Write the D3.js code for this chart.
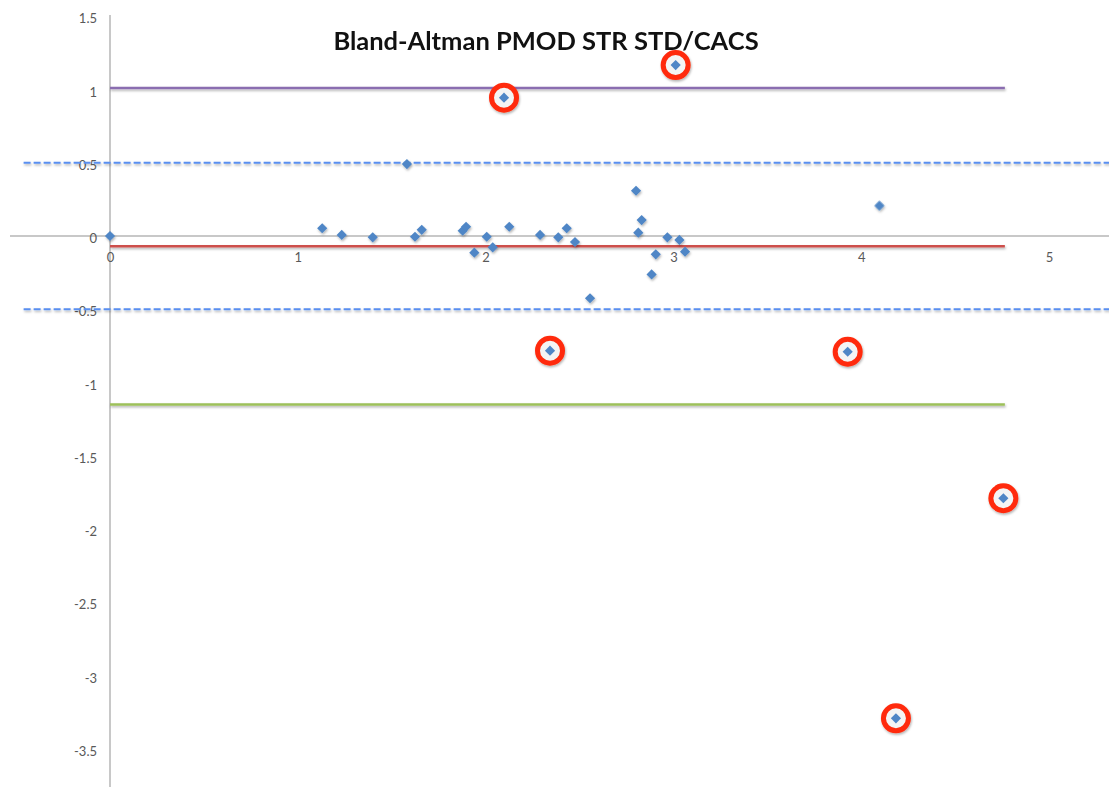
<!DOCTYPE html>
<html>
<head>
<meta charset="utf-8">
<script src="https://cdn.jsdelivr.net/npm/d3@7"></script>
<style>
  html, body { margin: 0; padding: 0; background: #fff; }
  svg { display: block; }
</style>
</head>
<body>
<svg id="chart" width="1109" height="787"></svg>
<script>
// ---- data ----
const title = "Bland-Altman PMOD STR STD/CACS";
const meanX = [0, 1.13, 1.234, 1.399, 1.581, 1.624, 1.66, 1.878, 1.896, 1.94, 2.006, 2.038, 2.126, 2.29, 2.387, 2.432, 2.476, 2.556, 2.801, 2.813, 2.831, 2.884, 2.906, 2.968, 3.032, 3.062, 4.097];
const diffY = [0, 0.053, 0.007, -0.009, 0.491, -0.005, 0.042, 0.036, 0.063, -0.114, -0.005, -0.077, 0.063, 0.007, -0.009, 0.053, -0.041, -0.425, 0.309, 0.023, 0.109, -0.262, -0.125, -0.009, -0.027, -0.107, 0.207];
const outlierX = [2.098, 3.012, 2.343, 3.928, 4.757, 4.185];
const outlierY = [0.944, 1.167, -0.783, -0.790, -1.790, -3.292];
const upperLoA = 1.01;
const meanDiff = -0.07;
const lowerLoA = -1.15;
const lineEndX = 4.765;
const tolerance = [0.5, -0.5];
const tolRange = [-0.46, 5.4];
const xTicks = [0, 1, 2, 3, 4, 5];
const yTicks = [1.5, 1, 0.5, 0, -0.5, -1, -1.5, -2, -2.5, -3, -3.5];

// ---- layout ----
const W = 1109, H = 787;
const svg = d3.select("#chart");
const x = d3.scaleLinear().domain([0, 5]).range([110, 1049]);
const y = d3.scaleLinear().domain([-3.5, 1.5]).range([236 + 3.5 * 146.5, 236 - 1.5 * 146.5]);

const defs = svg.append("defs");
const f = defs.append("filter").attr("id", "sh").attr("filterUnits", "userSpaceOnUse")
  .attr("x", 0).attr("y", 0).attr("width", W).attr("height", H);
f.append("feDropShadow").attr("dx", 0.8).attr("dy", 1.6).attr("stdDeviation", 1.2).attr("flood-color", "#000").attr("flood-opacity", 0.3);

// axis lines
svg.append("line").attr("x1", 10).attr("x2", W).attr("y1", y(0)).attr("y2", y(0))
  .attr("stroke", "#c8c8c8").attr("stroke-width", 2);
svg.append("line").attr("x1", x(0)).attr("x2", x(0)).attr("y1", 15).attr("y2", H)
  .attr("stroke", "#c8c8c8").attr("stroke-width", 2);

const font = "Lato, 'Open Sans', sans-serif";
const fmt = d => String(d);

// y axis labels
const yAx = svg.append("g").attr("transform", `translate(${x(0)},0)`)
  .call(d3.axisLeft(y).tickValues(yTicks).tickSize(0).tickPadding(13).tickFormat(fmt));
yAx.select(".domain").remove();
yAx.selectAll("text").attr("font-family", font).attr("font-size", 13).attr("fill", "#595959").attr("dy", "0.5em");

// x axis labels
const xAx = svg.append("g").attr("transform", `translate(0,${y(0)})`)
  .call(d3.axisBottom(x).tickValues(xTicks).tickSize(0).tickPadding(17).tickFormat(fmt));
xAx.select(".domain").remove();
xAx.selectAll("text").attr("font-family", font).attr("font-size", 13).attr("fill", "#595959");

// tolerance dashed lines
svg.append("g").attr("filter", "url(#sh)")
  .selectAll("line").data(tolerance).join("line")
  .attr("x1", x(tolRange[0])).attr("x2", x(tolRange[1]))
  .attr("y1", d => y(d)).attr("y2", d => y(d))
  .attr("stroke", "#5a8ff0").attr("stroke-width", 2.2).attr("stroke-dasharray", "7,3");

// limits of agreement and mean
const refLines = [
  { v: upperLoA, c: "#8a6db0" },
  { v: meanDiff, c: "#cd4f4b" },
  { v: lowerLoA, c: "#9dc05a" }
];
svg.append("g").attr("filter", "url(#sh)")
  .selectAll("line").data(refLines).join("line")
  .attr("x1", x(0)).attr("x2", x(lineEndX))
  .attr("y1", d => y(d.v)).attr("y2", d => y(d.v))
  .attr("stroke", d => d.c).attr("stroke-width", 2.6);

// points
const diamond = d3.symbol().type(d3.symbolSquare).size(52);
const pts = meanX.map((v, i) => [v, diffY[i]]);
svg.append("g").attr("filter", "url(#sh)")
  .selectAll("path").data(pts).join("path")
  .attr("d", diamond)
  .attr("transform", d => `translate(${x(d[0])},${y(d[1])}) rotate(45)`)
  .attr("fill", "#4f86c6");

// outliers with red circles
const outs = outlierX.map((v, i) => [v, outlierY[i]]);
svg.append("g").attr("filter", "url(#sh)")
  .selectAll("circle").data(outs).join("circle")
  .attr("cx", d => x(d[0])).attr("cy", d => y(d[1])).attr("r", 12.5)
  .attr("fill", "#f4f4f4").attr("stroke", "#ff2a0a").attr("stroke-width", 5);
svg.append("g")
  .selectAll("path").data(outs).join("path")
  .attr("d", diamond)
  .attr("transform", d => `translate(${x(d[0])},${y(d[1])}) rotate(45)`)
  .attr("fill", "#4f86c6");

// title
svg.append("text").attr("x", 546).attr("y", 50).attr("text-anchor", "middle")
  .attr("font-family", font).attr("font-weight", "bold").attr("font-size", 25.5)
  .attr("fill", "#111").text(title);
</script>
</body>
</html>
